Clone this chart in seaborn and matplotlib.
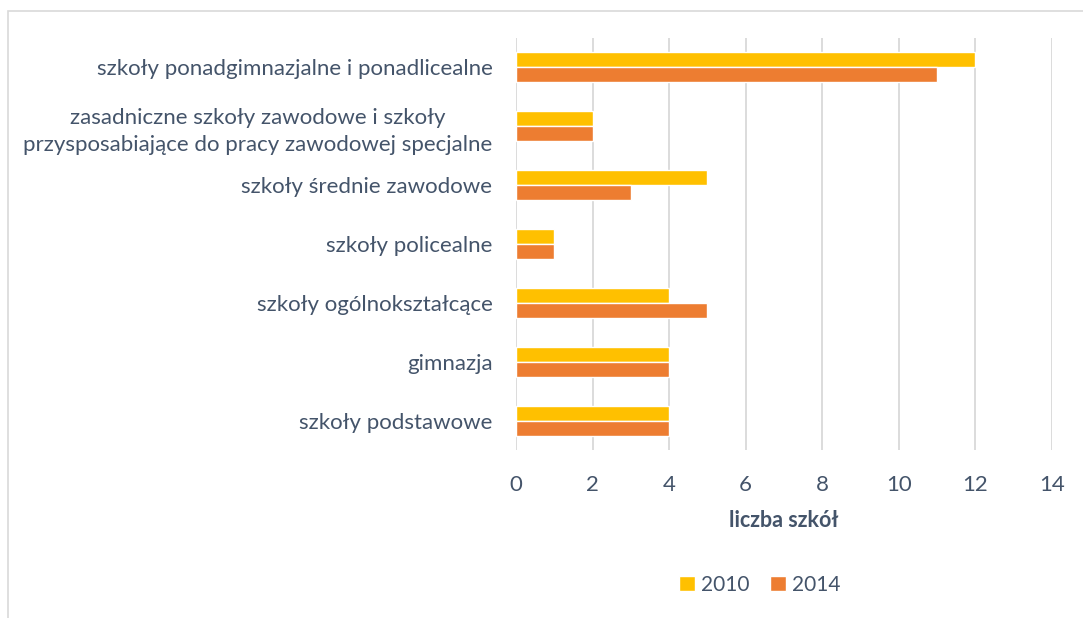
import pandas as pd
import matplotlib.pyplot as plt
import seaborn as sns
from matplotlib.patches import Rectangle

# dane
kategorie = ['szkoły ponadgimnazjalne i ponadlicealne',
             'zasadniczne szkoły zawodowe i szkoły\nprzysposabiające do pracy zawodowej specjalne',
             'szkoły średnie zawodowe',
             'szkoły policealne',
             'szkoły ogólnokształcące',
             'gimnazja',
             'szkoły podstawowe']
lata = ['2010', '2014']
wartosci_2010 = [12, 2, 5, 1, 4, 4, 4]
wartosci_2014 = [11, 2, 3, 1, 5, 4, 4]

df = pd.DataFrame({
    'kategoria': kategorie * 2,
    'rok': [lata[0]] * len(kategorie) + [lata[1]] * len(kategorie),
    'liczba': wartosci_2010 + wartosci_2014,
})

sns.set_style('white')
plt.rcParams['font.family'] = ['Lato', 'DejaVu Sans']
tekst = '#44546A'

fig = plt.figure(figsize=(10.83, 6.18), dpi=100)
ax = fig.add_axes([516 / 1083, 1 - 450 / 618, (1052 - 516) / 1083, (450 - 38) / 618])

sns.barplot(data=df, x='liczba', y='kategoria', hue='rok', hue_order=lata,
            palette=['#FFC000', '#ED7D31'], orient='h', width=0.51,
            saturation=1, ax=ax, legend=True)

ax.set_xlim(0, 14)
ax.set_xticks(range(0, 15, 2))
ax.grid(axis='x', color='#D9D9D9', linewidth=1.3)
ax.set_axisbelow(True)
for s in ['top', 'right', 'bottom', 'left']:
    ax.spines[s].set_visible(False)
ax.tick_params(axis='both', length=0, labelsize=16, colors=tekst)
ax.tick_params(axis='y', pad=17)
ax.tick_params(axis='x', pad=18)
ax.set_ylabel('')
ax.set_xlabel('liczba szkół', fontsize=15.5, fontweight='bold', color=tekst, labelpad=11)
for lbl in ax.get_yticklabels():
    lbl.set_multialignment('center')
    lbl.set_linespacing(1.45)

ax.legend(loc='center', bbox_to_anchor=(760 / 1083, 1 - 585 / 618),
          bbox_transform=fig.transFigure, ncol=2, frameon=False,
          fontsize=15, labelcolor=tekst, handlelength=0.75, handleheight=0.75,
          handletextpad=0.3, columnspacing=1.0)

# ramka wykresu
fig.patches.append(Rectangle((8 / 1083, -0.1), 1.2, 1.1 - 11 / 618,
                             transform=fig.transFigure, fill=False,
                             edgecolor='#D9D9D9', linewidth=1.2))

fig.savefig('out.png', dpi=100)
